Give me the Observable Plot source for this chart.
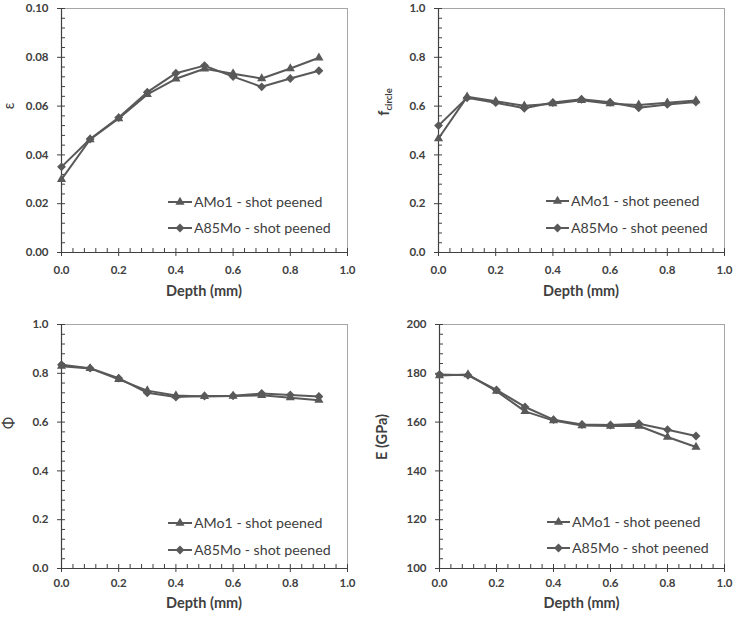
<!DOCTYPE html>
<html><head><meta charset="utf-8">
<script src="https://cdn.jsdelivr.net/npm/d3@7"></script>
<script src="https://cdn.jsdelivr.net/npm/@observablehq/plot@0.6"></script>
<style>
body{margin:0;background:#fff;}
#root{position:relative;width:737px;height:619px;overflow:hidden;}
.panel{position:absolute;}
</style></head><body><div id="root"></div>
<script>
// ---------------- data ----------------
const depth = [0, 0.1, 0.2, 0.3, 0.4, 0.5, 0.6, 0.7, 0.8, 0.9];
const seriesNames = ["AMo1 - shot peened", "A85Mo - shot peened"];

const epsAMo1  = [0.030, 0.0463, 0.0549, 0.0648, 0.0712, 0.0753, 0.0733, 0.0713, 0.0754, 0.0798];
const epsA85Mo = [0.0351, 0.0465, 0.0553, 0.0657, 0.0735, 0.0766, 0.0721, 0.0679, 0.0713, 0.0745];

const fAMo1  = [0.467, 0.638, 0.620, 0.601, 0.610, 0.624, 0.610, 0.605, 0.614, 0.623];
const fA85Mo = [0.520, 0.634, 0.614, 0.591, 0.615, 0.628, 0.616, 0.593, 0.607, 0.617];

const phiAMo1  = [0.829, 0.820, 0.775, 0.729, 0.709, 0.705, 0.707, 0.710, 0.700, 0.690];
const phiA85Mo = [0.835, 0.821, 0.780, 0.720, 0.703, 0.707, 0.708, 0.717, 0.711, 0.705];

const eAMo1  = [179.1, 179.5, 172.7, 164.4, 160.6, 158.6, 158.4, 158.4, 153.9, 149.8];
const eA85Mo = [179.5, 179.2, 173.2, 166.2, 161.0, 159.0, 158.8, 159.3, 156.9, 154.3];

const xTicks = [0, 0.2, 0.4, 0.6, 0.8, 1.0];
const yTicksEps = [0, 0.02, 0.04, 0.06, 0.08, 0.10];
const yTicksUnit = [0, 0.2, 0.4, 0.6, 0.8, 1.0];
const yTicksE = [100, 120, 140, 160, 180, 200];

// ---------------- layout ----------------
const ink = "#595959";
const panels = [
  {left:0, top:0, width:368, height:310, m:[8,21,58,61], a:epsAMo1, b:epsA85Mo, yTicks:yTicksEps, fmt:".2f",
   ytitle:{x:14, y:106, parts:[["ε",false]], weight:"normal"}, xtitleY:296, pad:9,
   leg:{x0:168, x1:192, y:[202,228]}},
  {left:370, top:0, width:367, height:310, m:[8,13,58,68], a:fAMo1, b:fA85Mo, yTicks:yTicksUnit, fmt:".1f",
   ytitle:{x:19, y:102, parts:[["f",false],["circle",true]], weight:"bold"}, xtitleY:296, pad:9,
   leg:{x0:176, x1:199, y:[201,228]}},
  {left:0, top:310, width:368, height:309, m:[14,21,51,61], a:phiAMo1, b:phiA85Mo, yTicks:yTicksUnit, fmt:".1f",
   ytitle:{x:14, y:113, parts:[["Φ",false]], weight:"normal"}, xtitleY:298, pad:6,
   leg:{x0:168, x1:192, y:[213,240]}},
  {left:370, top:310, width:367, height:309, m:[14,13,51,69], a:eAMo1, b:eA85Mo, yTicks:yTicksE, fmt:"d",
   ytitle:{x:17, y:127, parts:[["E (GPa)",false]], weight:"bold"}, xtitleY:298, pad:6,
   leg:{x0:177, x1:200, y:[212,238]}}
];

const root = document.getElementById("root");

for (const p of panels) {
  const [mt, mr, mb, ml] = p.m;
  const yMin = p.yTicks[0], yMax = p.yTicks[p.yTicks.length - 1];
  const yStep = (p.yTicks[1] - p.yTicks[0]) / 5;
  const yMinor = d3.range(0, 26).map(i => yMin + i * yStep).filter((v, i) => i % 5 !== 0);
  const xMinor = d3.range(0, 26).map(i => i * 0.04).filter((v, i) => i % 5 !== 0);
  const rows = [];
  depth.forEach((d, i) => { rows.push({x: d, y: p.a[i], s: seriesNames[0]}); });
  depth.forEach((d, i) => { rows.push({x: d, y: p.b[i], s: seriesNames[1]}); });
  const ra = rows.filter(r => r.s === seriesNames[0]);
  const rb = rows.filter(r => r.s === seriesNames[1]);
  const axisText = {fontWeight: "bold", fill: "#404040", fontSize: 11.5};

  const svg = Plot.plot({
    width: p.width, height: p.height,
    marginTop: mt, marginRight: mr, marginBottom: mb, marginLeft: ml,
    style: {fontFamily: "Lato, sans-serif", background: "#fff", overflow: "visible"},
    x: {domain: [0, 1]},
    y: {domain: [yMin, yMax]},
    marks: [
      Plot.ruleY([yMax], {stroke: "#a6a6a6", strokeWidth: 1}),
      Plot.ruleX([1], {stroke: "#a6a6a6", strokeWidth: 1}),
      Plot.ruleX([0], {stroke: "#404040", strokeWidth: 1.2}),
      Plot.ruleY([yMin], {stroke: "#404040", strokeWidth: 1.2}),
      Plot.axisX({ticks: xTicks, tickSize: 4, tickPadding: p.pad, tickFormat: d3.format(".1f"), stroke: "#404040", label: null, ...axisText}),
      Plot.axisX({ticks: xTicks, tickSize: -4, text: null, stroke: "#404040", label: null}),
      Plot.axisX({ticks: xMinor, tickSize: -4, text: null, stroke: "#404040", label: null}),
      Plot.axisY({ticks: p.yTicks, tickSize: 4, tickPadding: 9, tickFormat: d3.format(p.fmt), stroke: "#404040", label: null, ...axisText}),
      Plot.axisY({ticks: p.yTicks, tickSize: -4, text: null, stroke: "#404040", label: null}),
      Plot.axisY({ticks: yMinor, tickSize: -4, text: null, stroke: "#404040", label: null}),
      Plot.line(ra, {x: "x", y: "y", stroke: ink, strokeWidth: 2}),
      Plot.line(rb, {x: "x", y: "y", stroke: ink, strokeWidth: 2}),
      Plot.dot(ra, {x: "x", y: "y", symbol: "triangle", r: 3.4, fill: ink, stroke: "none"}),
      Plot.dot(rb, {x: "x", y: "y", symbol: "diamond2", r: 4.0, fill: ink, stroke: "none"})
    ]
  });
  svg.classList.add("panel");
  svg.style.left = p.left + "px";
  svg.style.top = p.top + "px";

  const s = d3.select(svg);
  // x title
  s.append("text")
    .attr("x", ml + (p.width - ml - mr) / 2).attr("y", p.xtitleY)
    .attr("text-anchor", "middle").attr("font-family", "Lato, sans-serif")
    .attr("font-size", 14.5).attr("font-weight", "bold").attr("fill", "#404040")
    .text("Depth (mm)");
  // y title
  const yt = s.append("text")
    .attr("transform", `translate(${p.ytitle.x},${p.ytitle.y}) rotate(-90)`)
    .attr("text-anchor", "middle").attr("font-family", "Lato, sans-serif")
    .attr("font-size", 14.5).attr("font-weight", p.ytitle.weight).attr("fill", "#404040");
  for (const [t, sub] of p.ytitle.parts) {
    const ts = yt.append("tspan").text(t);
    if (sub) ts.attr("font-size", 9.5).attr("dy", 3);
  }
  // legend
  const syms = [d3.symbol(d3.symbolTriangle, Math.PI * 3.4 * 3.4), d3.symbol(d3.symbolDiamond2, Math.PI * 4 * 4)];
  seriesNames.forEach((name, i) => {
    const yy = p.leg.y[i];
    const g = s.append("g");
    g.append("line").attr("x1", p.leg.x0).attr("x2", p.leg.x1).attr("y1", yy).attr("y2", yy)
      .attr("stroke", ink).attr("stroke-width", 2);
    g.append("path").attr("d", syms[i]()).attr("transform", `translate(${(p.leg.x0 + p.leg.x1) / 2},${yy})`)
      .attr("fill", ink);
    g.append("text").attr("x", p.leg.x1 + 2).attr("y", yy).attr("dy", "0.36em")
      .attr("text-anchor", "start")
      .attr("font-family", "Lato, sans-serif").attr("font-size", 14.2).attr("fill", "#404040")
      .text(name);
  });
  root.appendChild(svg);
}
</script>
</body></html>
